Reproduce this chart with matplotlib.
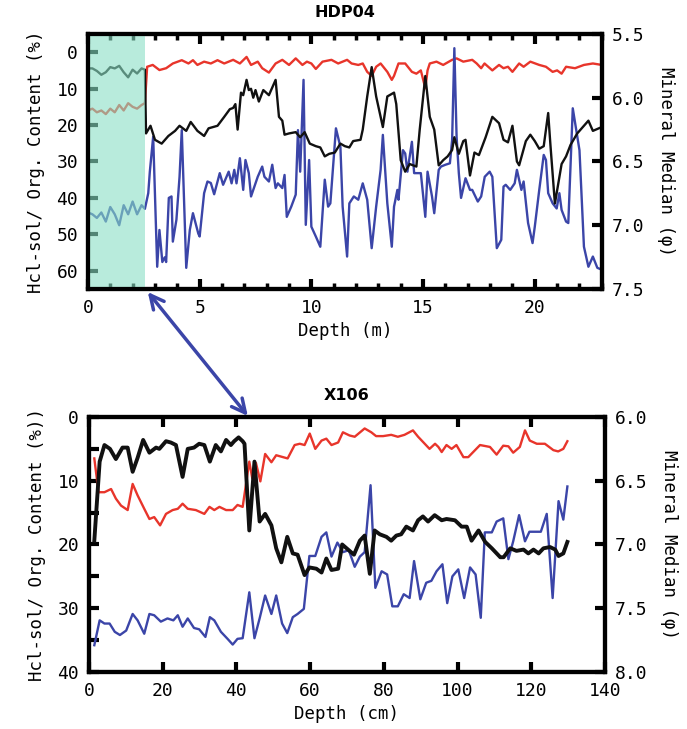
import numpy as np
import matplotlib
matplotlib.use("Agg")
import matplotlib.pyplot as plt
from matplotlib.patches import ConnectionPatch
from matplotlib.ticker import MultipleLocator

plt.rcParams['font.family'] = ['DejaVu Sans Mono']

# colores
ROJO = '#e8352b'
AZUL = '#3b45a8'
NEGRO = '#111111'
SOMBRA = '#8adfc5'

# ---------------- HDP04 (profundidad en m) ----------------
hdp_red_x = [0.0, 0.2, 0.4, 0.6, 0.8, 1.0, 1.2, 1.4, 1.6, 1.8, 2.0, 2.2, 2.4, 2.55,
             2.65, 2.9, 3.2, 3.5, 3.8, 4.2, 4.5, 4.7, 4.9, 5.2, 5.5, 5.8, 6.1, 6.3, 6.5,
             6.8, 7.1, 7.3, 7.6, 7.8, 8.1, 8.4, 8.7, 9.0, 9.3, 9.6, 9.8, 10.0, 10.2,
             10.5, 10.9, 11.2, 11.6, 11.8, 12.1, 12.3, 12.5, 12.7, 12.9, 13.1, 13.4,
             13.6, 13.7, 13.9, 14.2, 14.5, 14.7, 14.9, 15.1, 15.2, 15.3, 15.6, 15.9,
             16.3, 16.5, 16.8, 17.2, 17.4, 17.6, 17.75, 18.1, 18.4, 18.6, 18.8, 19.0,
             19.3, 19.5, 19.8, 20.2, 20.5, 20.8, 21.0, 21.2, 21.4, 21.8, 22.2, 22.6, 23.0]
hdp_red_y = [16.0, 15.5, 16.5, 16.0, 17.0, 15.5, 16.5, 14.5, 16.0, 14.0, 15.0, 15.5, 14.5, 14.0,
             4.0, 3.5, 4.9, 4.4, 3.1, 2.2, 3.1, 2.2, 3.5, 2.6, 3.1, 2.2, 3.1, 2.6, 2.1,
             3.1, 1.3, 3.5, 2.6, 4.4, 5.6, 3.1, 2.1, 3.5, 1.7, 3.5, 2.6, 3.1, 4.6,
             2.6, 2.1, 3.1, 2.1, 3.1, 3.5, 3.1, 5.4, 6.5, 4.0, 3.1, 5.4,
             7.6, 6.5, 3.1, 3.1, 5.4, 5.9, 5.0, 9.9, 5.0, 3.1, 2.6, 3.5,
             2.1, 1.7, 2.6, 2.1, 3.1, 4.4, 3.1, 5.0, 3.5, 4.4, 4.0, 5.4,
             3.1, 4.0, 2.6, 3.5, 4.0, 5.4, 5.0, 5.9, 4.0, 4.4, 3.5, 3.1, 3.5]

hdp_blk_x = [0.0, 0.2, 0.4, 0.6, 0.8, 1.0, 1.2, 1.4, 1.6, 1.8, 2.0, 2.2, 2.4, 2.55,
             2.6, 2.8, 3.0, 3.3, 3.6, 3.9, 4.1, 4.4, 4.6, 4.9, 5.2, 5.4, 5.8, 6.1, 6.35,
             6.5, 6.6, 6.7, 6.85, 6.95, 7.1, 7.2, 7.3, 7.4, 7.5, 7.65, 7.85, 8.1, 8.4,
             8.55, 8.7, 8.8, 9.0, 9.3, 9.5, 9.7, 9.93, 10.2, 10.4, 10.6, 10.8, 11.05,
             11.3, 11.5, 11.7, 11.87, 12.2, 12.3, 12.5, 12.7, 12.9, 13.2, 13.4, 13.7,
             13.8, 14.0, 14.2, 14.4, 14.7, 14.85, 15.1, 15.3, 15.5, 15.7, 15.9, 16.1,
             16.3, 16.4, 16.6, 16.8, 16.9, 17.1, 17.3, 17.5, 17.8, 18.1, 18.4, 18.6,
             18.8, 19.0, 19.2, 19.3, 19.6, 19.8, 20.0, 20.2, 20.4, 20.6, 20.7, 20.9,
             21.2, 21.4, 21.6, 21.9, 22.2, 22.4, 22.6, 23.0]
hdp_blk_y = [5.77, 5.77, 5.79, 5.82, 5.80, 5.76, 5.77, 5.75, 5.80, 5.84, 5.78, 5.81, 5.77, 5.78,
             6.28, 6.22, 6.33, 6.36, 6.30, 6.26, 6.22, 6.26, 6.19, 6.26, 6.30, 6.24, 6.22, 6.15, 6.09,
             6.08, 6.05, 6.25, 5.96, 5.98, 5.86, 5.94, 5.93, 6.00, 5.94, 6.03, 5.94, 5.98, 5.86,
             6.15, 6.18, 6.29, 6.28, 6.27, 6.31, 6.27, 6.36, 6.38, 6.39, 6.46, 6.44, 6.43,
             6.36, 6.38, 6.39, 6.34, 6.33, 6.25, 5.99, 5.76, 5.99, 6.23, 5.99, 5.96,
             6.05, 6.49, 6.58, 6.52, 6.54, 6.25, 5.83, 6.15, 6.25, 6.53, 6.49, 6.46,
             6.41, 6.31, 6.44, 6.34, 6.33, 6.61, 6.43, 6.45, 6.31, 6.15, 6.20, 6.33,
             6.35, 6.22, 6.50, 6.53, 6.34, 6.29, 6.34, 6.40, 6.38, 6.12, 6.37, 6.83,
             6.52, 6.46, 6.37, 6.28, 6.22, 6.18, 6.26, 6.23]

hdp_blu_x = [0.0, 0.2, 0.4, 0.6, 0.8, 1.0, 1.2, 1.4, 1.6, 1.8, 2.0, 2.2, 2.4, 2.55,
             2.7, 2.77, 2.92, 3.1, 3.2, 3.33, 3.44, 3.5, 3.62, 3.74, 3.8, 3.96, 4.1, 4.2,
             4.4, 4.56, 4.7, 4.94, 5.0, 5.2, 5.35, 5.5, 5.65, 5.9, 6.05, 6.3, 6.43, 6.55,
             6.65, 6.8, 6.95, 7.05, 7.2, 7.3, 7.5, 7.6, 7.8, 7.9, 8.1, 8.25, 8.4, 8.5,
             8.7, 8.8, 8.9, 9.1, 9.3, 9.4, 9.5, 9.65, 9.75, 9.9, 10.0, 10.2, 10.4, 10.6,
             10.75, 10.85, 11.1, 11.3, 11.4, 11.6, 11.7, 11.9, 12.1, 12.3, 12.5, 12.7,
             12.9, 13.1, 13.2, 13.4, 13.6, 13.7, 13.85, 13.9, 14.1, 14.2, 14.3, 14.5,
             14.6, 14.8, 14.9, 15.1, 15.2, 15.4, 15.5, 15.7, 15.8, 16.0, 16.2, 16.3,
             16.4, 16.5, 16.6, 16.7, 16.9, 17.1, 17.2, 17.45, 17.6, 17.76, 17.98, 18.1,
             18.3, 18.5, 18.6, 18.7, 18.9, 19.1, 19.2, 19.4, 19.5, 19.7, 19.9, 20.0,
             20.2, 20.4, 20.5, 20.6, 20.8, 20.98, 21.1, 21.2, 21.4, 21.5, 21.7, 22.0,
             22.2, 22.4, 22.6, 22.8, 23.0]
hdp_blu_y = [44.0, 44.5, 45.5, 44.0, 46.5, 42.5, 44.5, 47.5, 42.0, 44.5, 41.0, 44.5, 42.0, 43.0,
             38.7, 32.8, 23.2, 58.9, 48.8, 57.6, 56.3, 57.6, 40.0, 39.6, 52.0, 46.0, 34.2, 21.4,
             59.2, 48.8, 44.2, 49.8, 50.6, 38.7, 35.5, 35.9, 39.0, 33.2, 36.4, 32.8, 36.0, 32.3,
             36.0, 29.1, 37.8, 29.6, 33.2, 39.6, 36.0, 34.2, 31.4, 34.2, 35.5, 30.9, 37.3, 36.0,
             37.3, 33.7, 45.2, 42.4, 39.1, 21.4, 32.8, 7.6, 47.4, 29.6, 47.9, 50.6, 53.4, 35.0,
             42.4, 41.5, 20.9, 26.0, 42.4, 56.1, 41.5, 39.6, 40.5, 36.0, 40.5, 53.8,
             42.4, 32.3, 22.7, 41.5, 53.4, 42.4, 37.8, 40.5, 26.9, 27.8, 32.8, 24.6,
             33.2, 33.2, 33.2, 45.2, 32.8, 39.6, 44.2, 32.3, 31.4, 30.9, 30.5, 24.1,
             -1.1, 23.2, 33.2, 40.0, 34.6, 37.8, 37.8, 41.0, 39.6, 34.2, 32.8, 34.2,
             53.8, 51.5, 36.9, 36.4, 37.8, 36.0, 32.3, 37.8, 35.5, 46.9, 52.4, 47.9,
             37.8, 28.2, 29.6, 38.7, 41.5, 42.9, 38.7, 43.3, 46.5, 46.9, 15.4, 26.9,
             53.4, 58.9, 56.1, 59.2, 59.7]

HDP_SOMBRA_FIN = 2.55   # fin del tramo sombreado (m)
HDP_FLECHA = 2.68       # inicio de la flecha (m)

# ---------------- X106 (profundidad en cm) ----------------
x106_red_x = [1.45, 2.6, 4.2, 6.0, 7.3, 8.7, 10.5, 11.85, 13.2, 15.0, 16.4, 17.7, 19.3, 20.9,
              22.7, 24.1, 25.4, 26.8, 29.0, 31.3, 32.7, 34.0, 35.4, 37.2, 39.0, 40.3, 41.7,
              43.5, 44.3, 45.3, 46.5, 47.8, 49.5, 50.8, 53.9, 55.8, 57.2, 58.5, 59.9, 61.4,
              63.1, 64.4, 65.8, 67.6, 68.9, 70.7, 72.1, 74.8, 76.6, 77.9, 79.8, 82.0, 83.8,
              85.6, 87.9, 89.3, 91.1, 92.4, 93.9, 94.8, 95.7, 97.0, 98.4, 99.7, 101.6, 102.9,
              106.1, 108.8, 110.6, 112.4, 113.8, 115.1, 116.9, 118.3, 119.6, 121.5, 123.7,
              126.0, 127.3, 128.7, 129.8]
x106_red_y = [6.5, 11.8, 11.8, 11.3, 12.8, 13.9, 14.6, 10.5, 12.3, 14.4, 16.0, 15.7, 17.0, 15.2,
              14.6, 14.4, 13.6, 14.4, 14.6, 15.2, 14.1, 14.6, 14.1, 14.6, 14.6, 13.8, 14.1,
              7.0, 9.6, 7.2, 10.1, 5.8, 7.1, 6.0, 6.5, 4.4, 4.2, 4.4, 2.6, 5.0,
              3.7, 3.4, 4.4, 4.0, 2.4, 2.9, 3.1, 1.8, 2.4, 3.0, 3.0, 2.8, 3.1,
              2.8, 2.1, 3.1, 4.2, 5.0, 4.2, 4.7, 5.5, 4.4, 5.0, 4.4, 6.3, 6.3,
              4.4, 4.7, 5.9, 4.5, 4.6, 5.6, 4.7, 2.1, 3.7, 4.2, 4.2,
              5.2, 5.4, 5.0, 3.8]

x106_blk_x = [1.45, 2.9, 4.2, 5.7, 7.3, 9.1, 10.5, 11.85, 13.2, 14.7, 16.4, 18.2, 19.1, 20.9,
              22.2, 23.6, 25.4, 26.8, 28.5, 29.9, 31.3, 32.8, 34.4, 35.8, 37.2, 38.5, 39.4,
              40.6, 41.7, 42.2, 43.5, 44.9, 46.3, 47.8, 49.5, 50.8, 52.2, 53.8, 55.3, 56.6,
              58.5, 59.8, 61.7, 63.1, 64.4, 65.8, 67.6, 68.7, 70.3, 71.9, 73.5, 74.8, 76.2,
              77.5, 78.9, 80.7, 82.0, 83.4, 84.7, 86.1, 87.9, 89.3, 90.6, 92.0, 93.8, 95.7,
              97.0, 99.3, 101.1, 102.5, 103.8, 105.7, 107.5, 109.3, 111.6, 112.5, 114.3,
              116.0, 117.9, 119.2, 120.6, 122.0, 123.3, 125.1, 126.5, 127.4, 128.7, 129.8]
x106_blk_y = [6.97, 6.35, 6.22, 6.25, 6.33, 6.24, 6.24, 6.43, 6.32, 6.18, 6.28, 6.24, 6.25, 6.19,
              6.20, 6.22, 6.47, 6.25, 6.24, 6.21, 6.22, 6.35, 6.22, 6.27, 6.18, 6.22, 6.19,
              6.16, 6.19, 6.21, 6.89, 6.35, 6.82, 6.76, 6.85, 7.03, 7.14, 6.94, 7.07, 7.08,
              7.24, 7.18, 7.19, 7.22, 7.11, 7.20, 7.19, 7.00, 7.04, 7.08, 6.97, 6.93, 7.23,
              6.89, 6.92, 6.94, 6.97, 6.93, 6.92, 6.86, 6.89, 6.81, 6.78, 6.82, 6.77, 6.81,
              6.80, 6.81, 6.86, 6.86, 6.97, 6.89, 6.98, 7.03, 7.10, 7.10, 7.03,
              7.05, 7.04, 7.07, 7.04, 7.07, 7.03, 7.02, 7.04, 7.09, 7.07, 6.98]

x106_blu_x = [1.45, 2.9, 4.2, 5.6, 7.0, 8.4, 10.1, 11.85, 13.2, 15.0, 16.4, 17.7, 19.5, 21.3,
              22.9, 24.1, 25.4, 26.8, 28.5, 29.9, 31.6, 32.8, 34.0, 35.8, 37.6, 39.0, 40.3,
              41.7, 43.5, 44.9, 46.3, 47.8, 49.5, 50.8, 52.4, 53.8, 55.3, 56.6, 58.3, 59.8,
              61.4, 63.1, 64.4, 65.8, 67.4, 68.9, 70.5, 72.1, 73.5, 74.8, 76.4, 77.7, 79.4,
              80.9, 82.3, 83.8, 85.4, 87.0, 88.2, 89.9, 91.5, 92.9, 94.3, 95.9, 97.2, 98.6,
              100.2, 101.8, 103.4, 104.9, 106.3, 107.4, 109.3, 110.6, 112.4, 113.8, 115.1,
              116.7, 118.3, 119.5, 121.3, 122.6, 124.2, 125.8, 127.4, 128.7, 129.8]
x106_blu_y = [35.8, 31.9, 32.4, 32.4, 33.7, 34.2, 33.5, 30.9, 31.9, 34.0, 30.9, 31.1, 32.1, 31.6,
              31.9, 31.1, 32.9, 31.6, 33.1, 33.3, 34.5, 31.4, 31.9, 33.7, 34.8, 35.7, 34.8,
              34.7, 27.5, 34.7, 31.6, 28.0, 30.9, 28.0, 32.4, 33.9, 31.4, 30.9, 30.1, 21.8,
              21.8, 18.8, 18.1, 21.9, 19.7, 21.2, 20.9, 23.5, 21.9, 21.2, 10.7, 26.8, 24.2,
              24.7, 29.7, 29.7, 27.8, 28.4, 22.6, 28.6, 26.0, 25.7, 24.2, 23.1, 29.2, 25.0,
              23.9, 28.4, 23.6, 24.7, 31.5, 18.1, 18.1, 16.4, 15.9, 22.3, 19.5,
              15.4, 19.5, 18.0, 18.0, 18.0, 15.2, 28.4, 13.2, 16.1, 10.9]

X106_FLECHA = 43.1      # fin de la flecha (cm)


def estilo(ax, ax2):
    for a in (ax, ax2):
        for s in a.spines.values():
            s.set_linewidth(3)
            s.set_zorder(5)
    ax.tick_params(axis='both', which='both', direction='in', top=True,
                   labelsize=13, pad=7)
    ax.tick_params(which='major', length=7, width=3)
    ax.tick_params(which='minor', length=4, width=2.5)
    ax2.tick_params(axis='y', direction='in', labelsize=13, length=7, width=3, pad=7)


fig = plt.figure(figsize=(6.87, 7.29), dpi=100)

# ---- panel superior ----
ax1 = fig.add_axes([0.128, 0.6036, 0.748, 0.3498])
ax1.plot(hdp_red_x, hdp_red_y, color=ROJO, lw=1.7, zorder=2)
ax1.plot(hdp_blu_x, hdp_blu_y, color=AZUL, lw=1.7, zorder=2)
ax1.set_xlim(0, 23)
ax1.set_ylim(65, -5)
ax1.xaxis.set_major_locator(MultipleLocator(5))
ax1.xaxis.set_minor_locator(MultipleLocator(1))
ax1.yaxis.set_major_locator(MultipleLocator(10))
ax1.set_xlabel('Depth (m)', fontsize=12.5, labelpad=4)
ax1.set_ylabel('Hcl-sol/ Org. Content (%)', fontsize=12.5, labelpad=8)
ax1.set_title('HDP04', family='DejaVu Sans', fontweight='bold', fontsize=11.5, pad=12)

ax1b = ax1.twinx()
ax1b.plot(hdp_blk_x, hdp_blk_y, color=NEGRO, lw=1.7, zorder=2)
ax1b.set_ylim(7.5, 5.5)
ax1b.yaxis.set_major_locator(MultipleLocator(0.5))
ax1b.yaxis.set_major_formatter(plt.FuncFormatter(lambda v, p: f'{v:.1f}'))
ax1b.set_ylabel('Mineral Median (φ)', fontsize=12.5, rotation=270, labelpad=22)
ax1b.axvspan(0, HDP_SOMBRA_FIN, color=SOMBRA, alpha=0.6, lw=0, zorder=3)
estilo(ax1, ax1b)

# ---- panel inferior ----
ax2 = fig.add_axes([0.1295, 0.0782, 0.7511, 0.3498])
ax2.plot(x106_red_x, x106_red_y, color=ROJO, lw=1.7, zorder=2)
ax2.plot(x106_blu_x, x106_blu_y, color=AZUL, lw=1.7, zorder=2)
ax2.set_xlim(0, 140)
ax2.set_ylim(40, 0)
ax2.xaxis.set_major_locator(MultipleLocator(20))
ax2.yaxis.set_major_locator(MultipleLocator(10))
ax2.yaxis.set_minor_locator(MultipleLocator(5))
ax2.set_xlabel('Depth (cm)', fontsize=12.5, labelpad=4)
ax2.set_ylabel('Hcl-sol/ Org. Content (%))', fontsize=12.5, labelpad=8)
ax2.set_title('X106', family='DejaVu Sans', fontweight='bold', fontsize=11.5, pad=12)

ax2b = ax2.twinx()
ax2b.plot(x106_blk_x, x106_blk_y, color=NEGRO, lw=2.8, zorder=2)
ax2b.set_ylim(8.0, 6.0)
ax2b.yaxis.set_major_locator(MultipleLocator(0.5))
ax2b.yaxis.set_major_formatter(plt.FuncFormatter(lambda v, p: f'{v:.1f}'))
ax2b.set_ylabel('Mineral Median (φ)', fontsize=12.5, rotation=270, labelpad=22)
estilo(ax2, ax2b)
ax2.tick_params(which='minor', length=7, width=3)

# flecha entre paneles
con = ConnectionPatch(xyA=(HDP_FLECHA, -0.012), coordsA=ax1.get_xaxis_transform(),
                      xyB=(X106_FLECHA, 1.004), coordsB=ax2.get_xaxis_transform(),
                      arrowstyle='<->,head_length=0.7,head_width=0.35',
                      color=AZUL, lw=2.5, mutation_scale=14)
fig.add_artist(con)

plt.savefig('out.png', dpi=100)
